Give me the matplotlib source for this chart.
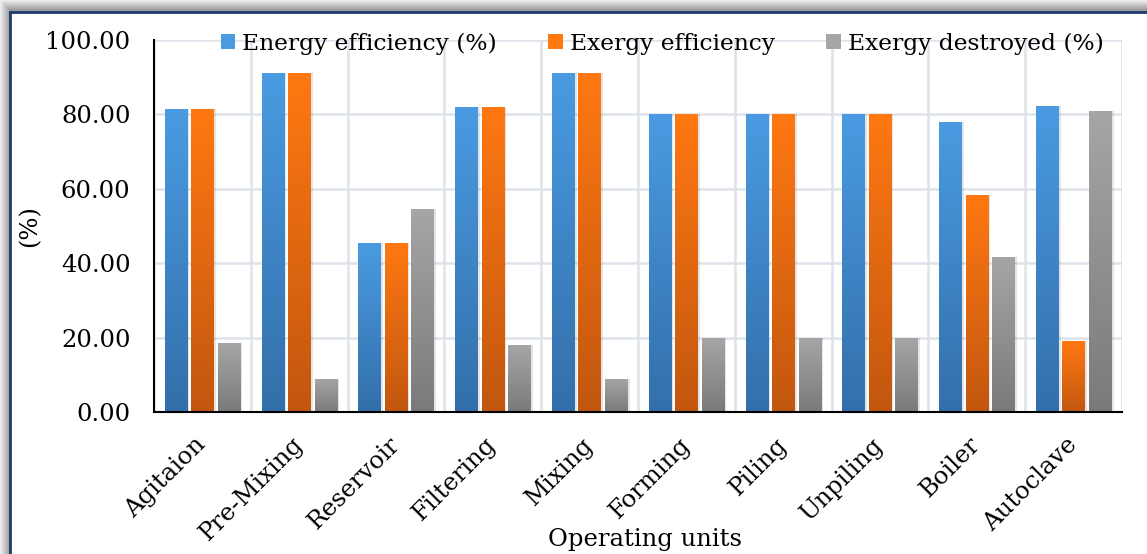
import matplotlib.pyplot as plt
import numpy as np
from matplotlib.patches import Rectangle
from matplotlib.colors import LinearSegmentedColormap

units = ["Agitaion", "Pre-Mixing", "Reservoir", "Filtering", "Mixing",
         "Forming", "Piling", "Unpiling", "Boiler", "Autoclave"]
energy_eff = [81.5, 91.1, 45.4, 82.0, 91.0, 80.0, 80.0, 80.0, 78.0, 82.3]
exergy_eff = [81.5, 91.1, 45.4, 82.0, 91.0, 80.0, 80.0, 80.0, 58.3, 19.0]
exergy_des = [18.5, 8.9, 54.6, 18.0, 9.0, 20.0, 20.0, 20.0, 41.7, 81.0]
series_names = ["Energy efficiency (%)", "Exergy efficiency", "Exergy destroyed (%)"]

plt.rcParams['font.family'] = ['DejaVu Serif']

W, H = 1147, 554
fig = plt.figure(figsize=(W / 100, H / 100), dpi=100)
fig.patch.set_facecolor('white')

# shadow strips and frame around chart area
for i, g in enumerate(np.linspace(0.93, 0.62, 10)):
    fig.add_artist(Rectangle((i / W, 0), (W - i) / W, (H - i) / H,
                             transform=fig.transFigure, facecolor=str(g),
                             edgecolor='none', zorder=0))
fig.add_artist(Rectangle((10 / W, -0.01), 1.0, (H - 12) / H + 0.01,
                         transform=fig.transFigure, facecolor='white',
                         edgecolor='#1F3A6E', linewidth=2, zorder=1))

ax = fig.add_axes([154 / W, 1 - 412 / H, (1122 - 154) / W, (412 - 40) / H])
ax.set_zorder(2)
ax.patch.set_alpha(0)

x = np.arange(len(units))
width = 0.232
offsets = [-0.272, 0.0, 0.275]
grads = [("#4A9BE2", "#336FAA"), ("#FF7812", "#C2570F"), ("#A6A6A6", "#7A7A7A")]
data = [energy_eff, exergy_eff, exergy_des]

handles = []
for vals, off, (ctop, cbot), name in zip(data, offsets, grads, series_names):
    # soft shadow
    ax.bar(x + off + 0.022, vals, width, color='#000000', alpha=0.10, zorder=2)
    bars = ax.bar(x + off, vals, width, color=ctop, zorder=3, label=name)
    cmap = LinearSegmentedColormap.from_list('g', [cbot, ctop])
    grad = np.linspace(0, 1, 256).reshape(-1, 1)
    for b in bars:
        bx, by, bw, bh = b.get_x(), b.get_y(), b.get_width(), b.get_height()
        im = ax.imshow(grad, extent=[bx, bx + bw, by, by + bh], origin='lower',
                       aspect='auto', cmap=cmap, zorder=4)
        im.set_clip_path(b)
    handles.append(Rectangle((0, 0), 1, 1, facecolor=ctop))

ax.set_xlim(-0.5, len(units) - 0.5)
ax.set_ylim(0, 100)
ax.set_yticks(np.arange(0, 101, 20))
ax.set_yticklabels([f"{v:.2f}" for v in np.arange(0, 101, 20)], fontsize=17.5)
ax.set_xticks(x)
ax.set_xticklabels(units, rotation=45, ha='right', va='center',
                   rotation_mode='anchor', fontsize=17.5)
ax.tick_params(axis='both', length=0)
ax.tick_params(axis='y', pad=17)
ax.tick_params(axis='x', pad=21)

# grid lines
ax.set_xticks(np.arange(-0.5, len(units), 1), minor=True)
ax.grid(True, axis='y', color='#DEE3EA', linewidth=1.8, zorder=0)
ax.grid(True, axis='x', which='minor', color='#DEE3EA', linewidth=1.8, zorder=0)
ax.grid(False, axis='x', which='major')
ax.tick_params(axis='x', which='minor', length=0)
ax.set_axisbelow(True)
for s in ['top', 'right']:
    ax.spines[s].set_visible(False)
for s in ['left', 'bottom']:
    ax.spines[s].set_color('black')
    ax.spines[s].set_linewidth(1.5)
    ax.spines[s].set_zorder(5)

ax.set_ylabel("(%)", fontsize=17.5, va='center')
ax.yaxis.set_label_coords(-0.128, 0.5)
ax.set_xlabel("Operating units", fontsize=17.5)
ax.xaxis.set_label_coords(0.507, -0.344)
ax.xaxis.label.set_va('center')

leg = ax.legend(handles, series_names, loc='center', bbox_to_anchor=(0.525, 0.99),
                ncol=3, frameon=False, fontsize=16.8, handlelength=0.62,
                handleheight=0.62, handletextpad=0.3, columnspacing=2.2)
leg.set_zorder(6)

fig.savefig('out.png', dpi=100)
